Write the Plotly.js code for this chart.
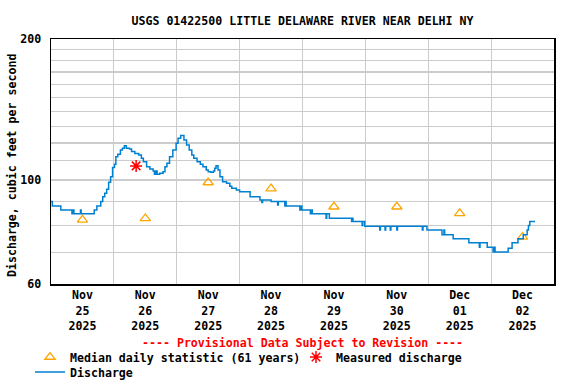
<!DOCTYPE html>
<html>
<head>
<meta charset="utf-8">
<script src="https://cdn.plot.ly/plotly-3.0.1.min.js"></script>
<style>html,body{margin:0;padding:0;background:#fff;}#chart{width:576px;height:384px;}</style>
</head>
<body>
<div id="chart"></div>
<script>
// ---- Data ----
var dischargeTimes = [
'2025-11-25 00:00','2025-11-25 00:30','2025-11-25 03:45','2025-11-25 08:00','2025-11-25 08:30','2025-11-25 08:45',
'2025-11-25 11:15','2025-11-25 11:30','2025-11-25 16:30','2025-11-25 17:30','2025-11-25 19:00','2025-11-25 19:45',
'2025-11-25 20:30','2025-11-25 21:15','2025-11-25 22:00','2025-11-25 22:45','2025-11-25 23:30','2025-11-26 00:15',
'2025-11-26 00:45','2025-11-26 01:30','2025-11-26 02:30','2025-11-26 03:15','2025-11-26 04:00','2025-11-26 04:45',
'2025-11-26 06:00','2025-11-26 06:45','2025-11-26 08:00','2025-11-26 09:30','2025-11-26 10:30','2025-11-26 11:15',
'2025-11-26 12:30','2025-11-26 13:45','2025-11-26 15:00','2025-11-26 15:30','2025-11-26 16:00','2025-11-26 16:30',
'2025-11-26 17:30','2025-11-26 18:45','2025-11-26 19:30','2025-11-26 20:15','2025-11-26 21:15','2025-11-26 22:30',
'2025-11-26 23:45','2025-11-27 00:30','2025-11-27 01:30','2025-11-27 02:45','2025-11-27 03:45','2025-11-27 04:45',
'2025-11-27 05:45','2025-11-27 06:30','2025-11-27 07:45','2025-11-27 09:00','2025-11-27 10:00','2025-11-27 11:15',
'2025-11-27 12:00','2025-11-27 13:00','2025-11-27 14:00','2025-11-27 14:30','2025-11-27 15:00','2025-11-27 15:45',
'2025-11-27 16:30','2025-11-27 17:30','2025-11-27 19:00','2025-11-27 20:15','2025-11-27 21:00','2025-11-27 22:45',
'2025-11-28 00:00','2025-11-28 04:00','2025-11-28 07:45','2025-11-28 08:30','2025-11-28 08:45','2025-11-28 12:00',
'2025-11-28 14:30','2025-11-28 14:45','2025-11-28 17:15','2025-11-28 17:30','2025-11-28 17:45','2025-11-28 23:00',
'2025-11-28 23:15','2025-11-28 23:45','2025-11-29 03:00','2025-11-29 03:30','2025-11-29 03:45','2025-11-29 09:00',
'2025-11-29 09:15','2025-11-29 10:15','2025-11-29 18:45','2025-11-29 19:00','2025-11-29 19:15','2025-11-29 22:45',
'2025-11-29 23:00','2025-11-29 23:45','2025-11-30 05:30','2025-11-30 05:45','2025-11-30 07:30','2025-11-30 07:45',
'2025-11-30 09:30','2025-11-30 09:45','2025-11-30 12:00','2025-11-30 12:15','2025-11-30 21:45','2025-11-30 22:00',
'2025-11-30 23:30','2025-12-01 05:15','2025-12-01 06:00','2025-12-01 06:15','2025-12-01 09:30','2025-12-01 15:30',
'2025-12-01 19:30','2025-12-01 19:45','2025-12-01 22:30','2025-12-02 00:45','2025-12-02 01:00','2025-12-02 01:30',
'2025-12-02 06:30','2025-12-02 08:00','2025-12-02 10:15','2025-12-02 12:15','2025-12-02 13:45','2025-12-02 14:15',
'2025-12-02 14:45','2025-12-02 16:45'
];
var dischargeValues = [
90,88,86.3,84.7,86.3,84.7,
86.3,84.7,86.3,88,90,92.1,
93.7,95.6,98.9,101.6,106.3,108.1,
112.2,113.5,115.9,116.9,118.4,116.9,
116.5,115,114,113.1,111.3,109.4,
106.8,105.6,104.6,102.9,104.6,102.9,
103.4,104.2,106.8,108.6,112.2,115.9,
119.8,122.8,124.4,121.7,118.8,115.9,
113.1,111.3,109.4,108.1,106.8,105.1,
104.2,103.9,104.6,106,107.3,105.1,
101.6,99.2,98.4,97,96,95.2,
94.4,92.1,90.7,89.5,90.7,90,
88.5,90,88,90,88,86.3,
88,86.3,84.7,86.3,84.7,82.9,
84.7,82.9,81.6,82.9,81.6,80,
81.6,79.7,78.2,79.7,78.2,79.7,
78.2,79.7,78.2,79.7,78.2,79.7,
78.2,76.4,78.2,76.4,74.9,73.5,
71.9,73.5,71.9,70.2,71.9,70.2,
71.5,73.5,74.9,76.4,78.2,80,
81.6,81.6
];
var medianDates = ['2025-11-25 12:00','2025-11-26 12:00','2025-11-27 12:00','2025-11-28 12:00',
                   '2025-11-29 12:00','2025-11-30 12:00','2025-12-01 12:00','2025-12-02 12:00'];
var medianValues = [82.2, 82.8, 98.8, 95.9, 87.7, 87.7, 84.9, 75.6];
var measuredDates = ['2025-11-26 08:30'];
var measuredValues = [107.2];
var yGridValues = [60,70,80,90,100,110,120,130,140,150,160,170,180,190,200];
var yTickLabels = ['60','','','','100','','','','','','','','','','200'];
var xRange = ['2025-11-25 00:00','2025-12-03 00:00'];
var yRange = [60, 200];

var FONT = 'DejaVu Sans Mono, Liberation Mono, monospace';
var baseFont = {family: FONT, size: 11.6, color: '#000', weight: 'bold'};

var traces = [
  {x: medianDates, y: medianValues, type: 'scatter', mode: 'markers',
   name: 'Median daily statistic (61 years)', legend: 'legend',
   marker: {symbol: 'triangle-up-open', size: 9, color: '#ffa500', line: {color: '#ffa500', width: 1.3}}},
  {x: measuredDates, y: measuredValues, type: 'scatter', mode: 'markers',
   name: 'Measured discharge', legend: 'legend3',
   marker: {symbol: 'asterisk-open', size: 10, color: '#ff0000', line: {color: '#ff0000', width: 1.5}}},
  {x: dischargeTimes, y: dischargeValues, type: 'scatter', mode: 'lines',
   name: 'Discharge', legend: 'legend2',
   line: {color: '#0080d0', width: 1.5, shape: 'hv'}}
];

function legendAt(px, py) {
  return {orientation: 'h', xref: 'container', yref: 'container', x: px/576, xanchor: 'left',
          y: 1 - py/384, yanchor: 'middle', font: baseFont, bgcolor: 'rgba(0,0,0,0)',
          itemwidth: 30, itemclick: false};
}

var layout = {
  width: 576, height: 384,
  margin: {l: 51, r: 22, t: 39, b: 100, pad: 0},
  paper_bgcolor: '#fff', plot_bgcolor: '#fff',
  font: baseFont,
  showlegend: true,
  title: {text: 'USGS 01422500 LITTLE DELAWARE RIVER NEAR DELHI NY',
          xref: 'paper', x: 0.5, xanchor: 'center', yref: 'container', y: 1 - 20.5/384, yanchor: 'middle',
          font: baseFont},
  xaxis: {type: 'date', range: xRange, tick0: '2025-11-25', dtick: 86400000,
          ticklabelmode: 'period', tickformat: '%b<br>%d<br>%Y',
          showgrid: true, gridcolor: '#cccccc', gridwidth: 1.2,
          showline: true, linecolor: '#000', linewidth: 1.5, mirror: true,
          ticks: '', zeroline: false, tickfont: baseFont, fixedrange: true},
  yaxis: {type: 'log', range: [Math.log10(yRange[0]), Math.log10(yRange[1])],
          tickmode: 'array', tickvals: yGridValues, ticktext: yTickLabels,
          showgrid: true, gridcolor: '#cccccc', gridwidth: 1.2,
          showline: true, linecolor: '#000', linewidth: 1.5, mirror: true,
          ticks: '', ticklabelstandoff: 6, zeroline: false, tickfont: baseFont, fixedrange: true},
  legend: legendAt(30, 357),
  legend3: legendAt(296, 357),
  legend2: legendAt(30, 372),
  annotations: [
    {text: '---- Provisional Data Subject to Revision ----', xref: 'paper', yref: 'paper',
     x: 0.5, xanchor: 'center', y: (284 - 343)/245, yanchor: 'middle', showarrow: false,
     font: {family: FONT, size: 11.6, color: '#ff0000', weight: 'bold'}},
    {text: 'Discharge, cubic feet per second', xref: 'paper', yref: 'paper',
     x: (12 - 51)/503, xanchor: 'center', y: (284 - 166)/245, yanchor: 'middle', textangle: -90,
     showarrow: false, font: baseFont}
  ]
};

Plotly.newPlot('chart', traces, layout, {staticPlot: true, displayModeBar: false});
</script>
</body>
</html>
